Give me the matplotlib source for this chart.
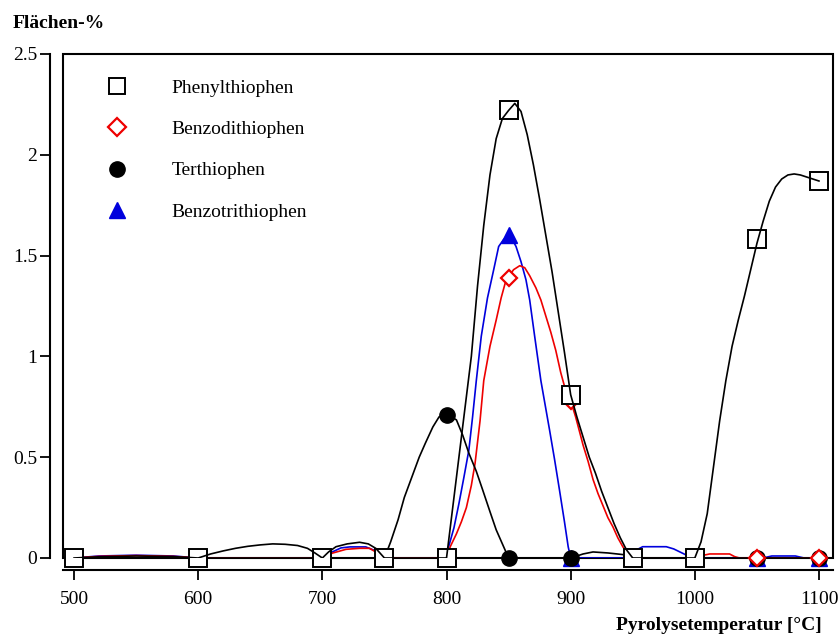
import matplotlib
matplotlib.use("Agg")
import matplotlib.pyplot as plt
from matplotlib.lines import Line2D
from matplotlib.patches import Rectangle

plt.rcParams['font.family'] = ['Liberation Serif', 'DejaVu Serif']
plt.rcParams['font.size'] = 14

# measured points (every marker)
temps = [500, 600, 700, 750, 800, 850, 900, 950, 1000, 1050, 1100]
phenyl = [0, 0, 0, 0, 0, 2.22, 0.81, 0, 0, 1.58, 1.87]
benzodi = [0, 0, 0, 0, 0, 1.39, 0.78, 0, 0, 0, 0]
terth = [0, 0, 0, 0, 0.71, 0, 0, 0, 0, 0, 0]
benzotri = [0, 0, 0, 0, 0, 1.60, 0, 0, 0, 0, 0]

# smoothed curves
phenyl_curve_T = [500, 520, 550, 580, 600, 610, 620, 630, 640, 650, 660, 670, 680, 688, 694, 700,
                  705, 711, 720, 730, 737, 743, 750, 800, 805, 810, 815, 820, 825, 830, 835, 840,
                  845, 850, 855, 860, 865, 870, 875, 880, 885, 890, 895, 900, 905, 910, 915, 920,
                  925, 930, 935, 940, 945, 950, 1000, 1005, 1010, 1015, 1020, 1025, 1030, 1035,
                  1040, 1045, 1050, 1055, 1060, 1065, 1070, 1075, 1080, 1085, 1090, 1095, 1100]
phenyl_curve = [0, 0.006, 0.01, 0.007, 0, 0.02, 0.035, 0.048, 0.058, 0.065, 0.07, 0.068, 0.062, 0.048, 0.025, 0,
                0.03, 0.056, 0.07, 0.078, 0.07, 0.048, 0, 0, 0.25, 0.5, 0.75, 1.0, 1.35, 1.65, 1.9, 2.08,
                2.18, 2.22, 2.255, 2.215, 2.1, 1.95, 1.78, 1.6, 1.42, 1.22, 1.02, 0.81, 0.7, 0.6, 0.5, 0.42,
                0.33, 0.25, 0.17, 0.1, 0.04, 0, 0, 0.08, 0.22, 0.45, 0.68, 0.88, 1.05, 1.18,
                1.3, 1.43, 1.56, 1.67, 1.77, 1.84, 1.88, 1.9, 1.905, 1.9, 1.89, 1.88, 1.87]

terth_curve_T = [500, 750, 755, 761, 766, 772, 778, 783, 789, 794, 800, 804, 808, 813, 818, 824,
                 829, 835, 840, 845, 850, 900, 910, 918, 930, 945, 950, 1100]
terth_curve = [0, 0, 0.08, 0.19, 0.3, 0.4, 0.5, 0.57, 0.65, 0.7, 0.71, 0.7, 0.685, 0.61, 0.52, 0.43,
               0.34, 0.23, 0.14, 0.07, 0, 0, 0.02, 0.03, 0.025, 0.015, 0, 0]

benzodi_curve_T = [500, 520, 550, 580, 600, 700, 708, 719, 730, 738, 743, 750, 800, 803, 808, 812,
                   816, 820, 823, 827, 830, 835, 840, 844, 848, 850, 854, 859, 863, 867, 872, 876,
                   880, 884, 888, 892, 896, 900, 904, 910, 914, 918, 922, 926, 930, 934, 938, 942,
                   946, 950, 1000, 1004, 1008, 1012, 1028, 1032, 1036, 1100]
benzodi_curve = [0, 0.008, 0.012, 0.008, 0, 0, 0.024, 0.043, 0.048, 0.048, 0.03, 0, 0, 0.056, 0.12, 0.18,
                 0.25, 0.36, 0.47, 0.68, 0.88, 1.05, 1.18, 1.29, 1.38, 1.395, 1.43, 1.45, 1.44, 1.4, 1.34, 1.28,
                 1.2, 1.12, 1.03, 0.92, 0.83, 0.78, 0.7, 0.56, 0.48, 0.39, 0.32, 0.26, 0.2, 0.155, 0.1, 0.056,
                 0.02, 0, 0, 0.01, 0.015, 0.02, 0.02, 0.007, 0, 0]

benzotri_curve_T = [500, 520, 550, 580, 600, 700, 708, 715, 722, 735, 743, 750, 800, 801, 806, 810,
                    814, 818, 821, 824, 828, 833, 838, 842, 846, 850, 853, 856, 860, 864, 867, 871,
                    876, 880, 883, 887, 891, 895, 898, 900, 950, 953, 958, 977, 983, 988, 993, 997,
                    1000, 1055, 1062, 1081, 1088, 1100]
benzotri_curve = [0, 0.01, 0.014, 0.01, 0, 0, 0.03, 0.05, 0.055, 0.055, 0.035, 0, 0, 0.04, 0.15, 0.27,
                  0.4, 0.535, 0.7, 0.88, 1.1, 1.29, 1.43, 1.545, 1.58, 1.6, 1.58, 1.545, 1.47, 1.38, 1.28, 1.1,
                  0.88, 0.74, 0.635, 0.49, 0.337, 0.18, 0.056, 0, 0, 0.04, 0.056, 0.056, 0.045, 0.03, 0.015, 0.007,
                  0, 0, 0.01, 0.01, 0, 0]

labels = ['Phenylthiophen', 'Benzodithiophen', 'Terthiophen', 'Benzotrithiophen']
xticks = [500, 600, 700, 800, 900, 1000, 1100]
yticks = [0, 0.5, 1, 1.5, 2, 2.5]
ytick_labels = ['0', '0.5', '1', '1.5', '2', '2.5']

fig = plt.figure(figsize=(8.4, 6.34), dpi=100)
ax = fig.add_axes([63/840, 76/634, 770/840, 504/634])

blue = '#0000dd'
red = '#ee0000'
lw = 1.2
ax.plot(benzotri_curve_T, benzotri_curve, color=blue, lw=lw, zorder=2)
ax.plot(benzodi_curve_T, benzodi_curve, color=red, lw=lw, zorder=2.1)
ax.plot(terth_curve_T, terth_curve, color='black', lw=lw, zorder=2.2)

ax.plot(temps, benzotri, ls='none', marker='^', ms=11, mfc=blue, mec=blue, clip_on=False, zorder=3)
ax.plot(temps, terth, ls='none', marker='o', ms=11, mfc='black', mec='black', clip_on=False, zorder=3.1)
ax.plot(temps, benzodi, ls='none', marker='D', ms=8.3, mfc='white', mec=red, mew=1.6, clip_on=False, zorder=3.2)
# squares: white fill on top of other markers, curve drawn over it
ax.plot(temps, phenyl, ls='none', marker='s', ms=12.5, mfc='white', mec='black', mew=1.4, clip_on=False, zorder=3.3)
ax.plot(phenyl_curve_T, phenyl_curve, color='black', lw=lw, zorder=3.4)

ax.set_xlim(491.1, 1111.3)
ax.set_ylim(0, 2.5)
ax.set_xticks(xticks)
ax.set_yticks(yticks)
ax.set_yticklabels(ytick_labels)

for s in ['top', 'right']:
    ax.spines[s].set_visible(False)
ax.spines['left'].set_position(('outward', 9.4))
ax.spines['bottom'].set_position(('outward', 8.6))
ax.spines['left'].set_linewidth(1.5)
ax.spines['bottom'].set_linewidth(1.5)
ax.tick_params(direction='out', length=7, width=1.3, labelsize=14)
ax.tick_params(axis='y', pad=2)
ax.tick_params(axis='x', pad=8)
ax.add_patch(Rectangle((0, 0), 1, 1, transform=ax.transAxes, fill=False,
                       lw=1.5, edgecolor='black', clip_on=False, zorder=1))

handles = [
    Line2D([], [], ls='none', marker='s', ms=12, mfc='white', mec='black', mew=1.4),
    Line2D([], [], ls='none', marker='D', ms=9.5, mfc='white', mec=red, mew=1.6),
    Line2D([], [], ls='none', marker='o', ms=11, mfc='black', mec='black'),
    Line2D([], [], ls='none', marker='^', ms=11.5, mfc=blue, mec=blue),
]
ax.legend(handles, labels, loc='upper left', bbox_to_anchor=(0.045, 0.95), frameon=False,
          borderpad=0, borderaxespad=0, handlelength=2, handletextpad=1.8,
          labelspacing=1.22, fontsize=14)

fig.text(12.5/840, 1 - 28/634, 'Flächen-%', fontweight='bold', fontsize=14, va='baseline')
fig.text(822/840, 1 - 630/634, 'Pyrolysetemperatur [°C]', fontweight='bold', fontsize=14,
         ha='right', va='baseline')

fig.savefig('out.png', dpi=100)
